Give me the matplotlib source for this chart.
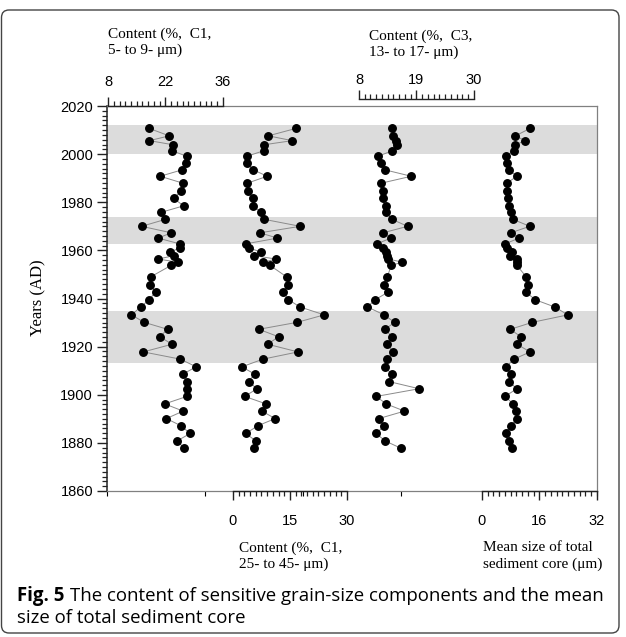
import numpy as np
import matplotlib
matplotlib.use("Agg")
import matplotlib.pyplot as plt
from matplotlib.patches import FancyBboxPatch
from matplotlib.ticker import MultipleLocator, FixedLocator

# data (years AD, top to bottom of the core)
years = [2010.7, 2007.6, 2005.6, 2003.9, 2001.4, 1999.1, 1996.4, 1993.5, 1990.8, 1987.9,
         1984.7, 1981.6, 1978.5, 1975.8, 1972.9, 1970.0, 1967.3, 1965.1, 1962.7, 1961.0,
         1959.3, 1957.8, 1956.4, 1955.1, 1953.8, 1949.0, 1945.7, 1942.7, 1939.5, 1936.5,
         1933.2, 1930.1, 1927.2, 1924.1, 1921.0, 1917.8, 1914.8, 1911.6, 1908.6, 1905.5,
         1902.5, 1899.3, 1896.2, 1893.2, 1890.1, 1887.1, 1883.9, 1880.8, 1877.8]

c1_fine = [18.0, 22.9, 18.1, 23.8, 23.6, 27.2, 27.0, 26.1, 20.7, 26.3,
           25.8, 24.0, 26.4, 20.9, 22.0, 16.2, 23.4, 20.2, 25.5, 25.5,
           23.1, 24.1, 20.2, 25.0, 23.4, 18.4, 18.2, 19.6, 18.0, 16.0,
           13.7, 16.8, 22.5, 20.6, 23.6, 16.6, 25.6, 29.5, 26.2, 27.3,
           27.3, 27.2, 21.8, 26.3, 22.2, 25.8, 28.0, 24.8, 26.6]

c1_coarse = [16.6, 9.3, 15.6, 8.2, 8.1, 3.6, 3.8, 5.3, 9.0, 3.7,
             4.0, 5.2, 5.3, 7.4, 8.2, 17.7, 7.1, 11.7, 3.3, 4.2,
             7.4, 5.6, 11.3, 8.0, 9.7, 14.1, 14.6, 13.2, 14.6, 17.6,
             24.0, 16.9, 6.8, 12.0, 9.1, 17.1, 7.9, 2.3, 5.7, 4.1,
             6.3, 3.1, 8.7, 7.6, 11.1, 6.5, 3.4, 6.0, 5.4]

c3 = [14.4, 14.5, 15.1, 15.3, 14.4, 11.6, 12.3, 12.9, 18.0, 12.2,
      12.6, 12.6, 13.1, 13.2, 14.3, 17.3, 12.6, 14.1, 11.4, 12.6,
      13.1, 13.4, 13.6, 16.3, 14.2, 13.4, 12.8, 13.6, 11.1, 9.6,
      12.8, 14.8, 13.0, 14.3, 13.4, 14.6, 13.3, 12.9, 14.3, 13.7,
      19.5, 11.3, 13.2, 16.7, 11.8, 12.8, 11.3, 13.0, 16.0]

mean_size = [13.4, 9.3, 12.0, 9.3, 8.9, 6.6, 6.9, 7.5, 9.7, 6.9,
             7.0, 7.2, 7.6, 8.0, 8.6, 13.3, 8.0, 10.3, 6.4, 7.0,
             8.3, 7.8, 9.8, 9.8, 9.7, 12.3, 12.9, 12.2, 14.8, 20.2,
             23.9, 14.0, 7.9, 10.8, 9.7, 13.4, 8.9, 6.7, 8.0, 7.5,
             9.7, 6.4, 8.7, 9.5, 9.7, 8.0, 6.6, 7.6, 8.4]

band_starts = [2000.0, 1962.7, 1913.4]
band_ends = [2012.0, 1974.0, 1934.8]

year_ticks = [1860, 1880, 1900, 1920, 1940, 1960, 1980, 2000, 2020]

c1_fine_ticks = [8, 22, 36]
c1_coarse_ticks = [0, 15, 30]
c3_ticks = [8, 19, 30]
mean_ticks = [0, 16, 32]

W, H = 626, 637
SERIF = "Liberation Serif"
SANS = "Liberation Sans"

fig = plt.figure(figsize=(W / 100, H / 100), dpi=100)
fig.patch.set_facecolor("white")

def fx(px):
    return px / W

def fy(py):
    return 1 - py / H

# main box (pixels): left 107, right 597, top 106, bottom 491
BL, BR, BT, BB = 107, 597, 106, 491
ax0 = fig.add_axes([fx(BL), fy(BB), (BR - BL) / W, (BB - BT) / H])
ax0.set_ylim(1860, 2020)
ax0.set_xlim(0, 1)
for s0, s1 in zip(band_starts, band_ends):
    ax0.axhspan(s0, s1, color="#dcdcdc", lw=0, zorder=0)

ax0.yaxis.set_major_locator(FixedLocator(year_ticks))
ax0.yaxis.set_minor_locator(MultipleLocator(2))
ax0.tick_params(axis="y", which="major", direction="out", length=7, width=1.0,
                pad=3, labelsize=10.5, color="#222222")
ax0.tick_params(axis="y", which="minor", direction="out", length=3.5, width=0.9,
                color="#222222")
for lab in ax0.get_yticklabels():
    lab.set_fontfamily(SANS)
ax0.tick_params(axis="x", which="both", bottom=False, top=False,
                labelbottom=False, labeltop=False)
for side in ["top", "right", "bottom"]:
    ax0.spines[side].set_color("#808080")
    ax0.spines[side].set_linewidth(0.9)
ax0.spines["left"].set_color("#222222")
ax0.spines["left"].set_linewidth(1.1)


def add_series(values, ticks, px_lo, px_hi, side, offset, pad):
    lo, hi = ticks[0], ticks[-1]
    f0 = (px_lo - BL) / (BR - BL)
    f1 = (px_hi - BL) / (BR - BL)
    per = (hi - lo) / (f1 - f0)
    ax = ax0.twiny()
    ax.set_xlim(lo - f0 * per, hi + (1 - f1) * per)
    ax.set_ylim(1860, 2020)
    ax.plot(values, years, "-", color="#8a8a8a", lw=0.7, zorder=2)
    ax.plot(values, years, "o", color="black", ms=5.4, mec="black", zorder=3)
    for s in ax.spines.values():
        s.set_visible(False)
    sp = ax.spines[side]
    sp.set_visible(True)
    sp.set_bounds(lo, hi)
    sp.set_color("#222222")
    sp.set_linewidth(1.0)
    if offset:
        sp.set_position(("outward", offset))
    if side == "bottom":
        ax.xaxis.tick_bottom()
    else:
        ax.xaxis.tick_top()
    ax.xaxis.set_major_locator(FixedLocator(ticks))
    ax.xaxis.set_minor_locator(FixedLocator(np.linspace(lo, hi, 21)))
    ax.tick_params(axis="x", which="major", direction="out", length=6.5, width=1.0,
                   pad=pad, labelsize=10.5, color="#222222")
    ax.tick_params(axis="x", which="minor", direction="out", length=3.5, width=0.9,
                   color="#222222")
    for lab in ax.get_xticklabels():
        lab.set_fontfamily(SANS)
    ax.yaxis.set_visible(False)
    return ax


add_series(c1_fine, c1_fine_ticks, 108, 223, "top", 0, 6)
add_series(c1_coarse, c1_coarse_ticks, 233, 347, "bottom", 0, 10)
add_series(c3, c3_ticks, 359, 474, "top", 5, 2.5)
add_series(mean_size, mean_ticks, 482, 597, "bottom", 0, 10)

# axis titles
kw = dict(family=SERIF, fontsize=11, ha="left", va="center", linespacing=1.25)
fig.text(fx(108), fy(42), "Content (%,  C1,\n5- to 9- μm)", **kw)
fig.text(fx(369), fy(44), "Content (%,  C3,\n13- to 17- μm)", **kw)
fig.text(fx(239), fy(556), "Content (%,  C1,\n25- to 45- μm)", **kw)
fig.text(fx(483), fy(556), "Mean size of total\nsediment core (μm)", **kw)
fig.text(fx(38), fy(298), "Years (AD)", family=SERIF, fontsize=12,
         rotation=90, ha="center", va="center")

# caption
cap_kw = dict(family="Open Sans", fontsize=13.4, va="center", ha="left")
t1 = fig.text(fx(17), fy(596), "Fig. 5", fontweight="bold", **cap_kw)
fig.canvas.draw()
bb = t1.get_window_extent()
fig.text(bb.x1 / W + 6 / W, fy(596),
         "The content of sensitive grain-size components and the mean", **cap_kw)
fig.text(fx(17), fy(618), "size of total sediment core", **cap_kw)

# rounded frame
frame = FancyBboxPatch((fx(1.5), fy(633)), fx(619) - fx(1.5), fy(10) - fy(633),
                       boxstyle="round,pad=0,rounding_size=0.012",
                       transform=fig.transFigure, fill=False,
                       ec="#444444", lw=1.0)
fig.patches.append(frame)

fig.savefig("out.png", dpi=100)
